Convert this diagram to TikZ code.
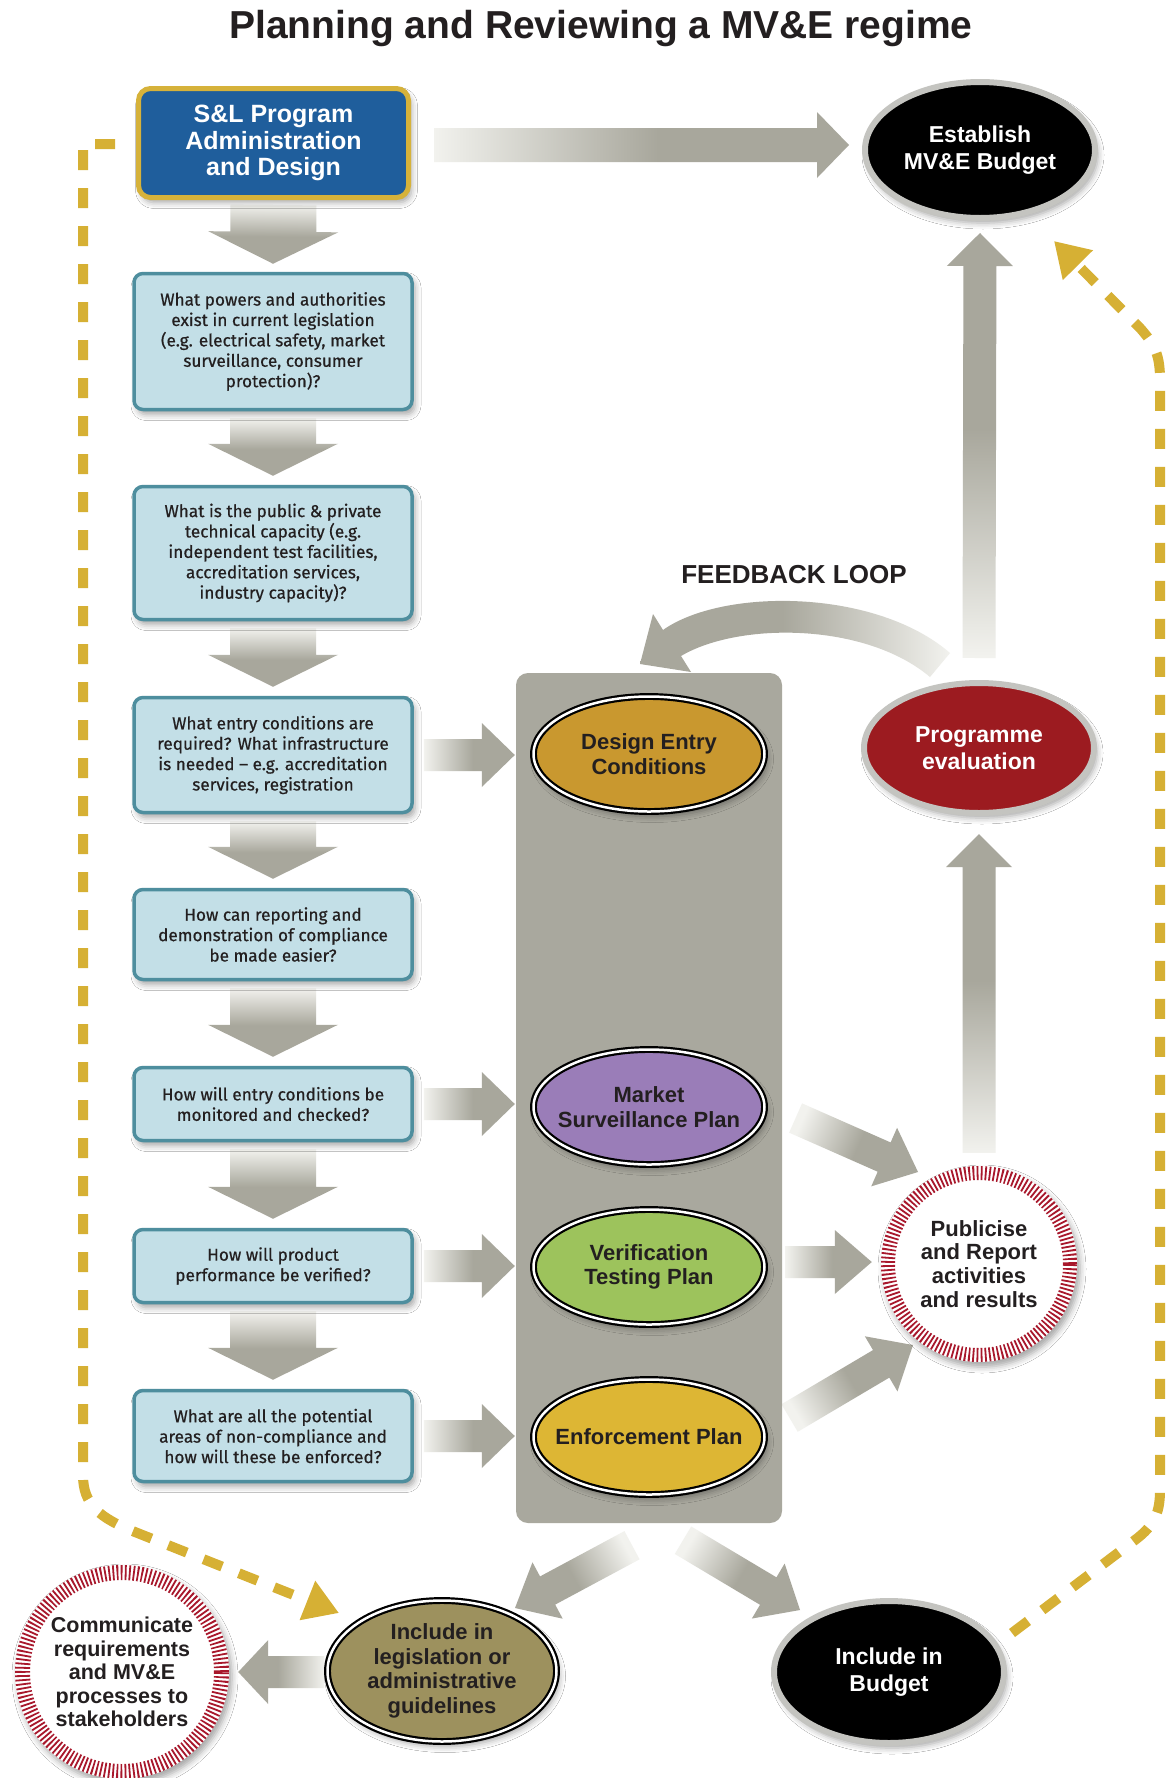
\documentclass[tikz,border=0pt]{standalone}
\usepackage{fontspec}
\setmainfont{Liberation Sans}
\newfontfamily\boxfont[FakeBold=0.6]{Fira Sans}
\usetikzlibrary{shapes.geometric, calc, arrows.meta, shadows.blur}

\definecolor{agray}{HTML}{A8A79C}
\definecolor{afadec}{HTML}{F2F2EE}
\definecolor{panelgray}{HTML}{A9A89E}
\definecolor{boxfill}{HTML}{C3DFE7}
\definecolor{boxedge}{HTML}{4E8E9E}
\definecolor{slblue}{HTML}{1F5E9C}
\definecolor{slgold}{HTML}{D6B23A}
\definecolor{ochre}{HTML}{C9982F}
\definecolor{plum}{HTML}{9A7DB8}
\definecolor{leaf}{HTML}{9DC35C}
\definecolor{goldfill}{HTML}{DDB634}
\definecolor{olive}{HTML}{9D915E}
\definecolor{wine}{HTML}{9C1B20}
\definecolor{dashy}{HTML}{D6B034}
\definecolor{tickred}{HTML}{A8182C}
\definecolor{ink}{HTML}{231F20}
\definecolor{rimgray}{HTML}{C4C4C0}

\pgfdeclareverticalshading{afade}{100bp}{color(0bp)=(afadec); color(25bp)=(afadec); color(52bp)=(agray); color(100bp)=(agray)}

\pgfdeclarelayer{bg}
\pgfsetlayers{bg,main}

% block arrow: #1 tail, #2 tip, #3 shaft half width, #4 head half width, #5 head length
\newcommand\barrow[5]{%
  \coordinate (bT) at (#1);
  \coordinate (bP) at (#2);
  \coordinate (bB) at ($(bP)!#5pt!(bT)$);
  \path let \p1=(bT), \p2=(bP), \n1={atan2(\y2-\y1,\x2-\x1)-90} in \pgfextra{\xdef\barang{\n1}};
  \shade[shading=afade, shading angle=\barang]
    ($(bT)!#3pt!90:(bP)$) -- ($(bB)!#3pt!90:(bP)$) -- ($(bB)!#4pt!90:(bP)$) -- (bP)
    -- ($(bB)!#4pt!-90:(bP)$) -- ($(bB)!#3pt!-90:(bP)$) -- ($(bT)!#3pt!-90:(bP)$) -- cycle;
}

\tikzset{
  softshadow/.style={blur shadow={shadow xshift=3pt, shadow yshift=-5pt, shadow blur radius=6pt, shadow opacity=35}},
  qbox/.style={rectangle, draw=boxedge, fill=boxfill, line width=3.5pt, rounded corners=9pt,
    minimum width=278pt, inner sep=0pt, align=center, text=ink,
    font=\boxfont\fontsize{17.2}{20.4}\selectfont, softshadow},
  plan/.style={ellipse, draw=black, double=white, double distance=2.5pt, line width=2.2pt,
    minimum width=231pt, minimum height=115pt, inner sep=-22pt, align=center, text=ink,
    font=\bfseries\fontsize{22}{24.5}\selectfont, softshadow},
  darkoval/.style={ellipse, fill=black, draw=rimgray, line width=6pt, inner sep=-10pt,
    align=center, text=white, font=\bfseries\fontsize{23}{27}\selectfont, softshadow},
  tickcircle/.style={circle, fill=white, inner sep=0pt, align=center, text=ink,
    font=\bfseries\fontsize{22}{23.8}\selectfont, softshadow},
  tickring/.style={draw=tickred, dash pattern=on 1.8pt off 2.3pt},
  dashline/.style={draw=dashy, line width=10pt, dash pattern=on 20pt off 18pt},
}

\begin{document}
\begin{tikzpicture}[x=1pt, y=-1pt]
\useasboundingbox (0,0) rectangle (1166,1778);

% ---------- nodes ----------
\node[anchor=base, text=ink, font=\bfseries\fontsize{39}{40}\selectfont] (title) at (601,38.5)
  {Planning and Reviewing a MV\&E regime};

\node[rectangle, fill=slblue, draw=slgold, line width=5pt, rounded corners=12pt,
  minimum width=270pt, minimum height=109pt, inner sep=0pt, align=center, text=white,
  font=\bfseries\fontsize{25}{26.5}\selectfont, softshadow] (sl) at (273.5,143)
  {S\&L Program\\Administration\\and Design};

\node[qbox, minimum height=136pt] (b2) at (273,341.5)
  {What powers and authorities\\exist in current legislation\\(e.g. electrical safety, market\\surveillance, consumer\\protection)?};
\node[qbox, minimum height=133pt] (b3) at (273,553)
  {What is the public \& private\\technical capacity (e.g.\\independent test facilities,\\accreditation services,\\industry capacity)?};
\node[qbox, minimum height=115pt] (b4) at (273,755)
  {What entry conditions are\\required? What infrastructure\\is needed – e.g. accreditation\\services, registration};
\node[qbox, minimum height=90pt] (b5) at (273,934.5)
  {How can reporting and\\demonstration of compliance\\be made easier?};
\node[qbox, minimum height=73pt] (b6) at (273,1104)
  {How will entry conditions be\\monitored and checked?};
\node[qbox, minimum height=73pt] (b7) at (273,1266)
  {How will product\\performance be verified?};
\node[qbox, minimum height=91pt] (b8) at (273,1436)
  {What are all the potential\\areas of non-compliance and\\how will these be enforced?};

\node[rectangle, fill=panelgray, rounded corners=12pt, minimum width=266pt, minimum height=850pt,
  inner sep=0pt] (panel) at (649,1098) {};

\node[plan, fill=ochre] (dec) at (649,754) {Design Entry\\Conditions};
\node[plan, fill=plum] (msp) at (649,1107) {Market\\Surveillance Plan};
\node[plan, fill=leaf] (vtp) at (649,1267) {Verification\\Testing Plan};
\node[plan, fill=goldfill] (enf) at (649,1437) {Enforcement Plan};

\node[darkoval, minimum width=230pt, minimum height=136pt] (est) at (980,150) {Establish\\MV\&E Budget};
\node[darkoval, fill=wine, minimum width=230pt, minimum height=130pt] (prog) at (979,748) {Programme\\evaluation};
\node[darkoval, minimum width=230pt, minimum height=142pt] (bud) at (889,1672) {Include in\\Budget};
\node[plan, fill=olive, minimum width=229pt, minimum height=141pt] (leg) at (442,1671)
  {Include in\\legislation or\\administrative\\guidelines};

\node[tickcircle, minimum size=196pt] (pub) at (979,1264)
  {Publicise\\and Report\\activities\\and results};
\draw[tickring, line width=14pt] (pub.center) circle (91pt);
\node[tickcircle, minimum size=214pt, font=\bfseries\fontsize{21.5}{23.6}\selectfont] (comm) at (122,1672)
  {Communicate\\requirements\\and MV\&E\\processes to\\stakeholders};
\draw[tickring, line width=15pt] (comm.center) circle (99.5pt);

\node[text=ink, font=\bfseries\fontsize{26}{28}\selectfont] (fb) at (794,575) {FEEDBACK LOOP};

% ---------- background layer: connectors ----------
\begin{pgfonlayer}{bg}
\fill[white] (0,0) rectangle (1166,1778);

% dashed loops
\draw[dashline, -{Triangle[length=34pt, width=40pt]}]
  ($(sl.west)+(-21,1)$) -- (83,144) -- (83,1475) .. controls (83,1505) and (100,1518) .. (135,1532)
  -- ($(leg.center)+(-103,-58)$);
\draw[dashline, -{Triangle[length=34pt, width=40pt]}]
  ($(bud.center)+(123,-39)$) -- (1135,1540) .. controls (1155,1525) and (1160,1512) .. (1160,1490)
  -- (1160,380) .. controls (1160,355) and (1155,345) .. (1140,328)
  -- ($(est.center)+(74,91)$);

% feedback loop arc
\shade[shading=afade, shading angle=90]
  (950,653) .. controls (875,588) and (722,588) .. (663,630)
  -- (653,614) -- (640,664) -- (691,672) -- (681,656)
  .. controls (738,622) and (865,622) .. (930,677) -- cycle;

% top arrow
\barrow{$(sl.east)+(23,2)$}{$(est.west)+(-13,-5)$}{17}{33}{32}
% down arrows
\barrow{$(sl.south)+(0,5)$}{$(b2.north)+(0,-8)$}{43}{65}{32}
\barrow{$(b2.south)+(0,7)$}{$(b3.north)+(0,-9)$}{43}{65}{32}
\barrow{$(b3.south)+(0,7)$}{$(b4.north)+(0,-9)$}{43}{65}{32}
\barrow{$(b4.south)+(0,7)$}{$(b5.north)+(0,-9)$}{43}{65}{32}
\barrow{$(b5.south)+(0,7)$}{$(b6.north)+(0,-9)$}{43}{65}{32}
\barrow{$(b6.south)+(0,7)$}{$(b7.north)+(0,-9)$}{43}{65}{32}
\barrow{$(b7.south)+(0,7)$}{$(b8.north)+(0,-9)$}{43}{65}{32}
% right arrows into panel
\barrow{$(b4.east)+(10,0)$}{$(panel.west |- b4.east)+(-1,0)$}{16}{32}{33}
\barrow{$(b6.east)+(10,0)$}{$(panel.west |- b6.east)+(-1,0)$}{16}{32}{33}
\barrow{$(b7.east)+(10,0)$}{$(panel.west |- b7.east)+(-1,0)$}{16}{32}{33}
\barrow{$(b8.east)+(10,0)$}{$(panel.west |- b8.east)+(-1,0)$}{16}{32}{33}
% up arrows on right
\barrow{$(prog.north)+(0,-22)$}{$(est.south)+(0,12)$}{16.5}{33}{33}
\barrow{$(pub.north)+(0,-13)$}{$(prog.south)+(0,18)$}{16.5}{33}{33}
% into publicise
\barrow{$(msp.east)+(30,11)$}{$(pub.center)+(-61,-92)$}{16}{32}{37}
\barrow{$(vtp.east)+(20,-5)$}{$(pub.west)+(-9,-2)$}{16}{32}{37}
\barrow{$(enf.east)+(24,-19)$}{$(pub.center)+(-66,81)$}{16}{32}{37}
% bottom
\barrow{$(panel.south)+(-17,22)$}{$(leg.center)+(73,-63)$}{16}{32}{37}
\barrow{$(panel.south)+(34,17)$}{$(bud.center)+(-89,-62)$}{16}{32}{37}
\barrow{$(leg.west)+(-2,1)$}{$(comm.east)+(9,0)$}{16}{32}{30}
\end{pgfonlayer}
\end{tikzpicture}
\end{document}
